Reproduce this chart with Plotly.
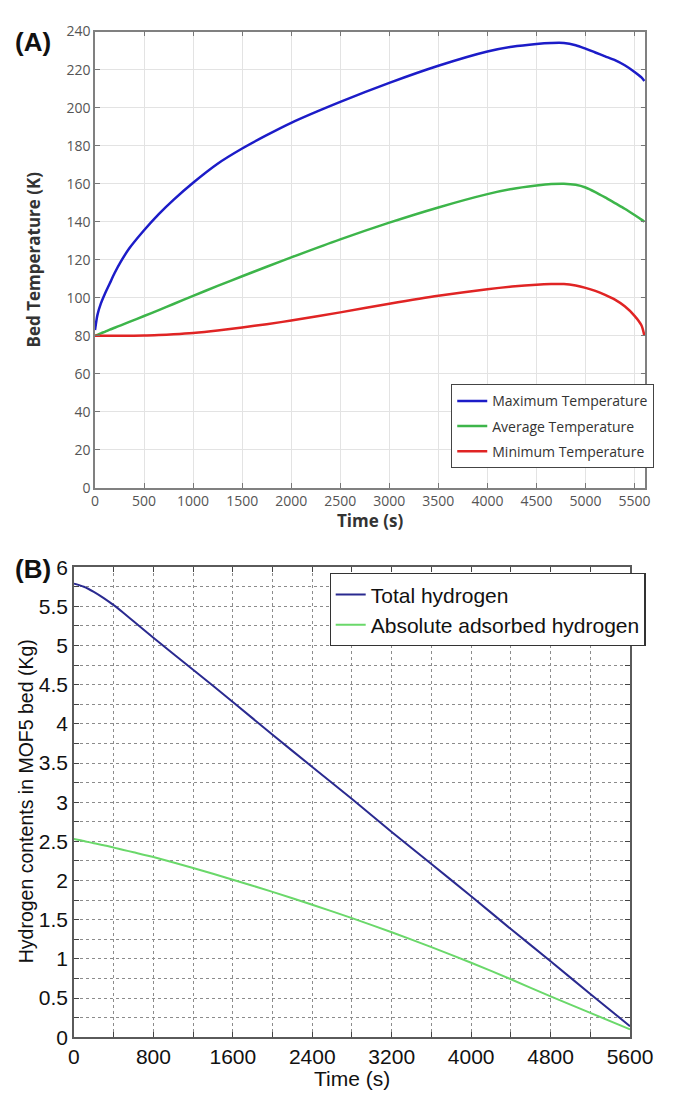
import plotly.graph_objects as go

# ---- (A) bed temperature during discharge ----
time_a = [0, 25, 60, 100, 150, 200, 263, 350, 500, 650, 800, 1000, 1250, 1500,
          1750, 2000, 2500, 3000, 3500, 4000, 4250, 4500, 4650, 4780, 4900,
          5000, 5100, 5200, 5300, 5400, 5500, 5570, 5600]
t_max = [83, 91, 97, 102, 107.5, 113, 119, 126, 135.5, 144, 151.5, 160.5, 170.5, 178.5,
         185.5, 192, 203, 213, 222, 229.5, 232, 233.5, 234, 234, 232.8,
         231, 229, 227, 225, 222.3, 218.8, 215.9, 214]
t_avg = [80, 80.5, 81.3, 82.1, 83.2, 84.2, 85.5, 87.3, 90.4, 93.5, 96.7, 101, 106.2, 111.3,
         116.3, 121.2, 130.7, 139.5, 147.5, 154.5, 157.2, 159, 159.8, 160, 159.4,
         158, 155.6, 152.8, 149.8, 146.8, 143.5, 141.1, 140]
t_min = [80, 80, 80, 80, 80, 80, 80, 80, 80.1, 80.4, 80.8, 81.5, 82.8, 84.4,
         86.1, 88, 92.3, 96.8, 101, 104.5, 105.9, 106.9, 107.2, 107.2, 106.4,
         105.2, 103.6, 101.5, 99, 95.5, 90.5, 85.5, 80]
xticks_a = list(range(0, 5501, 500))
yticks_a = list(range(0, 241, 20))

# ---- (B) hydrogen inventory of the MOF5 bed ----
time_b = [0, 100, 200, 300, 400, 500, 600, 800, 1200, 1600, 2000, 2400, 2800,
          3200, 3600, 4000, 4400, 4800, 5200, 5600]
h2_total = [5.79, 5.75, 5.685, 5.605, 5.515, 5.415, 5.31, 5.10, 4.69, 4.28, 3.86, 3.45, 3.04,
            2.62, 2.21, 1.80, 1.38, 0.97, 0.55, 0.14]
h2_adsorbed = [2.53, 2.505, 2.475, 2.45, 2.42, 2.39, 2.36, 2.30, 2.16, 2.01, 1.855, 1.69, 1.52,
               1.34, 1.15, 0.95, 0.74, 0.52, 0.31, 0.10]
xticks_b = list(range(0, 5601, 400))
xlabels_b = [str(v) if v % 800 == 0 else "" for v in xticks_b]
yticks_b = [i * 0.25 for i in range(25)]
ylabels_b = [("%g" % v) if (i % 2 == 0) else "" for i, v in enumerate(yticks_b)]

W, H = 676, 1103


def px_x(p):
    return p / W


def px_y(p):
    return 1 - p / H


fig = go.Figure()

curve_a = dict(width=2.5, shape="spline", smoothing=0.8)
fig.add_trace(go.Scatter(x=time_a, y=t_max, name="Maximum Temperature", mode="lines",
                         line=dict(curve_a, color="#1c1cc8"), legendgroup="max",
                         xaxis="x", yaxis="y", legend="legend"))
fig.add_trace(go.Scatter(x=time_a, y=t_avg, name="Average Temperature", mode="lines",
                         line=dict(curve_a, color="#3db54a"), legendgroup="avg",
                         xaxis="x", yaxis="y", legend="legend"))
fig.add_trace(go.Scatter(x=time_a, y=t_min, name="Minimum Temperature", mode="lines",
                         line=dict(curve_a, color="#e02424"), legendgroup="min",
                         xaxis="x", yaxis="y", legend="legend"))

fig.add_trace(go.Scatter(x=time_b, y=h2_total, name="Total hydrogen", mode="lines",
                         line=dict(color="#2a2a90", width=2, shape="spline", smoothing=0.5),
                         xaxis="x2", yaxis="y2", legend="legend2"))
fig.add_trace(go.Scatter(x=time_b, y=h2_adsorbed, name="Absolute adsorbed hydrogen", mode="lines",
                         line=dict(color="#6ad86a", width=2, shape="spline", smoothing=0.5),
                         xaxis="x2", yaxis="y2", legend="legend2"))

font_a = "Open Sans, DejaVu Sans, sans-serif"
font_b = "Liberation Sans, Arial, sans-serif"

axis_a = dict(ticks="inside", ticklen=5, tickcolor="#777", showline=True,
              linecolor="#808080", linewidth=1.5, mirror="ticks", showgrid=True,
              gridcolor="#e3e3e3", gridwidth=1, zeroline=False,
              tickfont=dict(family=font_a, size=14, color="#555"))
axis_b = dict(ticks="inside", ticklen=5, tickcolor="#444", showline=True,
              linecolor="#5a5a5a", linewidth=1.5, mirror="ticks", showgrid=True,
              gridcolor="#8c8c8c", gridwidth=1, griddash="dot", zeroline=False,
              tickfont=dict(family=font_b, size=21, color="#111"))

fig.update_layout(
    width=W, height=H,
    margin=dict(l=0, r=0, t=0, b=0),
    paper_bgcolor="white", plot_bgcolor="white",
    xaxis=dict(axis_a, domain=[px_x(93), px_x(668)], range=[0, 5610],
               tickvals=xticks_a, anchor="y"),
    yaxis=dict(axis_a, domain=[px_y(486), px_y(20)], range=[0, 240],
               tickvals=yticks_a, anchor="x"),
    xaxis2=dict(axis_b, domain=[px_x(71), px_x(652)], range=[0, 5600],
                tickvals=xticks_b, ticktext=xlabels_b, anchor="y2"),
    yaxis2=dict(axis_b, domain=[px_y(1047), px_y(567)], range=[0, 6],
                tickvals=yticks_b, ticktext=ylabels_b, anchor="x2"),
    legend=dict(x=px_x(465), y=px_y(380), xanchor="left", yanchor="top",
                bgcolor="white", bordercolor="#444", borderwidth=1.2,
                font=dict(family=font_a, size=14, color="#333"),
                tracegroupgap=4),
    legend2=dict(x=px_x(338), y=px_y(573), xanchor="left", yanchor="top",
                 bgcolor="white", bordercolor="#333", borderwidth=1.2,
                 font=dict(family=font_b, size=21, color="#111"),
                 tracegroupgap=0),
    showlegend=True,
)

annotations = [
    dict(text="<b>(A)</b>", x=px_x(28), y=px_y(31),
         font=dict(family="Liberation Sans Narrow, Arial Narrow, Liberation Sans", size=26, color="#111")),
    dict(text="<b>(B)</b>", x=px_x(28), y=px_y(569),
         font=dict(family="Liberation Sans Narrow, Arial Narrow, Liberation Sans", size=26, color="#111")),
    dict(text="<b>Time (s)</b>", x=px_x(380), y=px_y(519),
         font=dict(family=font_a, size=17, color="#333")),
    dict(text="<b>Bed Temperature (K)</b>", x=px_x(29), y=px_y(253), textangle=-90,
         font=dict(family=font_a, size=17, color="#333")),
    dict(text="Time (s)", x=px_x(362), y=px_y(1089),
         font=dict(family=font_b, size=21, color="#111")),
    dict(text="Hydrogen contents in MOF5 bed (Kg)", x=px_x(21), y=px_y(806), textangle=-90,
         font=dict(family=font_b, size=19.5, color="#111")),
]
for a in annotations:
    a.update(xref="paper", yref="paper", showarrow=False, xanchor="center", yanchor="middle")
fig.update_layout(annotations=annotations)

fig.write_html("out.html")
